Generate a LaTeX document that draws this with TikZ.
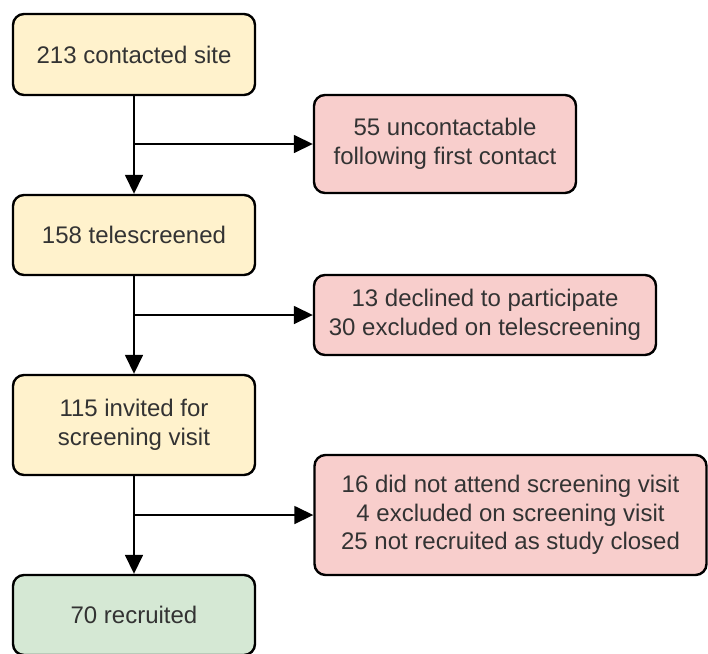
\documentclass[tikz,border=0pt]{standalone}
\usepackage{fontspec}
\setmainfont{Liberation Sans}
\usetikzlibrary{arrows.meta}
\definecolor{yfill}{HTML}{FFF2CC}
\definecolor{rfill}{HTML}{F8CECC}
\definecolor{gfill}{HTML}{D5E8D4}
\definecolor{txt}{HTML}{333333}
\tikzset{
  box/.style={draw=black, line width=2.4pt, rounded corners=11pt, align=center,
    inner sep=0pt, text=txt, font=\fontsize{24}{28.5}\selectfont},
  ybox/.style={box, fill=yfill},
  rbox/.style={box, fill=rfill},
  gbox/.style={box, fill=gfill},
  flow/.style={draw=black, line width=1.6pt, -{Triangle[length=19pt,width=18pt]}},
}
\begin{document}
\begin{tikzpicture}[x=1pt,y=-1pt]
\useasboundingbox (0,0) rectangle (708,653);
\node[ybox, minimum width=242pt, minimum height=81pt] (b1) at (134,54.5) {213 contacted site};
\node[ybox, minimum width=242pt, minimum height=80pt] (b2) at (134,235) {158 telescreened};
\node[ybox, minimum width=242pt, minimum height=100pt] (b3) at (134,425) {115 invited for\\screening visit};
\node[gbox, minimum width=242pt, minimum height=80pt] (b4) at (134,615) {70 recruited};
\node[rbox, minimum width=262pt, minimum height=98pt] (r1) at (445,144) {55 uncontactable\\following first contact};
\node[rbox, minimum width=342pt, minimum height=80pt] (r2) at (485,315) {13 declined to participate\\30 excluded on telescreening};
\node[rbox, minimum width=392pt, minimum height=120pt] (r3) at (510.5,515) {16 did not attend screening visit\\4 excluded on screening visit\\25 not recruited as study closed};
\draw[flow] (b1) -- (b2);
\draw[flow] (b2) -- (b3);
\draw[flow] (b3) -- (b4);
\draw[flow] (b1.south |- r1.west) -- (r1.west);
\draw[flow] (b2.south |- r2.west) -- (r2.west);
\draw[flow] (b3.south |- r3.west) -- (r3.west);
\end{tikzpicture}
\end{document}
